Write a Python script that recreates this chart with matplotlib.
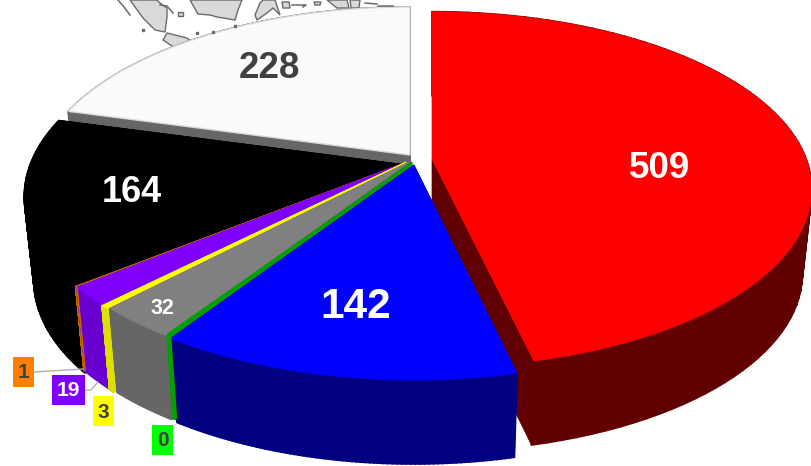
import numpy as np
from matplotlib import pyplot as plt

# 数据
values = [509, 142, 0, 32, 3, 19, 1, 164, 228]
labels = ['509', '142', '0', '32', '3', '19', '1', '164', '228']

top_colors = ['#ff0000', '#0000ff', '#00a000', '#808080', '#ffff00', '#8000ff', '#c86400', '#000000', '#fafafa']
wall_colors = ['#600000', '#000080', '#00a000', '#666666', '#e0e000', '#6a00d0', '#c86400', '#000000', '#666666']

# 样式: 爆炸偏移 (dx, dy), 半径比例
offsets = [(24, -6), (6, 0), (4, -3), (1, -3), (-2, -3), (-1, -3), (-1, -3), (0, 0), (2, -10)]
scales_x = [0.99, 1, 1, 1, 1, 1, 1, 1, 0.98]
scales_y = [0.97, 1, 1, 1, 1, 1, 1, 1, 0.975]
draw_order = [0, 8, 7, 6, 5, 4, 3, 2, 1]

# 背景地图
land = [
    [(130, 0), (143, 18), (155, 30), (165, 32), (167, 17), (167, 8), (160, 3), (157, 0)],
    [(190, 0), (198, 14), (210, 15), (217, 17), (235, 20), (238, 10), (242, 0)],
    [(163, 40), (167, 33), (187, 38), (192, 42), (175, 48)],
    [(255, 15), (260, 3), (263, 0), (275, 0), (280, 15), (273, 8), (267, 13), (257, 20)],
    [(178, 12), (183, 12), (183, 16), (178, 16)],
    [(327, 0), (347, 0), (349, 8), (337, 8)],
    [(350, 0), (360, 0), (359, 8), (351, 8)],
    [(314, 2), (321, 2), (320, 5), (315, 5)],
    [(282, 2), (289, 2), (290, 8), (283, 8)],
]
land_lines = [
    [(118, 0), (124, 7), (130, 15)],
    [(160, 5), (167, 6), (173, 13)],
    [(292, 5), (306, 5), (303, 7)],
    [(365, 3), (377, 4)],
    [(378, 6), (393, 6)],
]
land_dots = [(143, 30), (197, 33), (213, 32), (235, 26)]

cx, cy = 408, 165
rx, ry = 378, 178
k = 0.172
depth = 84

fracs = np.cumsum([0] + values) / sum(values) * 2 * np.pi


def pt(a, r=1.0, z=0.0, off=(0, 0), s=(1.0, 1.0)):
    # 透视投影, a 从正上方顺时针
    u = r * np.sin(a)
    v = -r * np.cos(a)
    d = 1 - k * v
    x = cx + off[0] + s[0] * rx * u / d * (1 - 0.025 * z)
    y = cy + off[1] + s[1] * ry * v / d + depth * z
    return x, y


def taper(p0, p1, w):
    # 尖端到外缘逐渐变宽
    dx, dy = p1[0] - p0[0], p1[1] - p0[1]
    n = np.hypot(dx, dy)
    nx, ny = -dy / n * w / 2, dx / n * w / 2
    return [p0, (p1[0] + nx, p1[1] + ny), (p1[0] - nx, p1[1] - ny)]


fig = plt.figure(figsize=(8.12, 4.66), dpi=100)
ax = fig.add_axes([0, 0, 1, 1])
ax.set_xlim(0, 812)
ax.set_ylim(466, 0)
ax.axis('off')

for poly in land:
    ax.fill(*zip(*poly), facecolor='#d9d9d9', edgecolor='#6a6a6a', lw=1)
for line in land_lines:
    ax.plot(*zip(*line), color='#6a6a6a', lw=1.1)
ax.plot(*zip(*land_dots), ls='none', marker='s', ms=1.5, color='#6a6a6a')

for i in draw_order:
    a0, a1 = fracs[i], fracs[i + 1]
    off, s = offsets[i], (scales_x[i], scales_y[i])
    arc = np.linspace(a0, a1, 80)
    top_arc = [pt(a, 1, 0, off, s) for a in arc]
    low_arc = [pt(a, 1, 1, off, s) for a in arc]
    apex = pt(0, 0, 0, off, s)
    apex_low = pt(0, 0, 1, off, s)

    # 径向侧面
    for a in (a0, a1):
        quad = [apex, pt(a, 1, 0, off, s), pt(a, 1, 1, off, s), apex_low]
        ax.fill(*zip(*quad), color=wall_colors[i], lw=0.5)
    # 外侧面, 一段一段扫过去, 这样左右轮廓是切线
    for j in range(len(arc) - 1):
        quad = [top_arc[j], top_arc[j + 1], low_arc[j + 1], low_arc[j]]
        ax.fill(*zip(*quad), color=wall_colors[i], lw=1.2)
    # 顶面
    edge = '#d9d9d9' if i == 8 else top_colors[i]
    ax.fill(*zip(*([apex] + top_arc)), facecolor=top_colors[i], edgecolor=edge, lw=1 if i == 8 else 0.5)

    # 值很小的扇区只有一条线
    if values[i] <= 3:
        w = {0: 5.0, 1: 1.6, 3: 3.4}[values[i]]
        p0 = pt(a0, 1, 0, off, s)
        p1 = pt(a0, 1, 1, off, s)
        ax.fill(*zip(*taper(apex, p0, w)), color=top_colors[i], lw=0)
        ax.plot([p0[0], p1[0]], [p0[1], p1[1]], color=wall_colors[i], lw=w * 0.72, solid_capstyle='butt')

# 数字
ax.text(660, 169, labels[0], color='white', fontsize=26.5, fontweight='bold', family='Liberation Sans', ha='center', va='center')
ax.text(356, 307, labels[1], color='white', fontsize=30.5, fontweight='bold', family='Liberation Sans', ha='center', va='center')
ax.text(162, 309, labels[3], color='white', fontsize=15.5, fontweight='bold', family='Liberation Sans', ha='center', va='center')
ax.text(132, 192, labels[7], color='white', fontsize=26, fontweight='bold', family='Liberation Sans', ha='center', va='center')
ax.text(269, 68, labels[8], color='#404040', fontsize=26.5, fontweight='bold', family='Liberation Sans', ha='center', va='center')

# 引线
ax.plot([34, 83], [372, 369], color='#b0b0b0', lw=1)
ax.plot([86, 91, 98], [390, 390, 382], color='#b0b0b0', lw=1)

# 小标签
for txt, bg, fg, x, y, w in [(labels[6], '#ff8000', '#404040', 23.5, 372, 21),
                             (labels[5], '#8000ff', 'white', 68.5, 390, 33),
                             (labels[4], '#ffff00', '#404040', 103.5, 411, 21),
                             (labels[2], '#00ff00', '#404040', 162.5, 440, 21)]:
    ax.fill([x - w / 2, x + w / 2, x + w / 2, x - w / 2], [y - 15, y - 15, y + 15, y + 15], color=bg, lw=0)
    ax.text(x, y + 1, txt, color=fg, fontsize=15, fontweight='bold', family='Liberation Sans', ha='center', va='center')

plt.savefig('out.png', dpi=100)
